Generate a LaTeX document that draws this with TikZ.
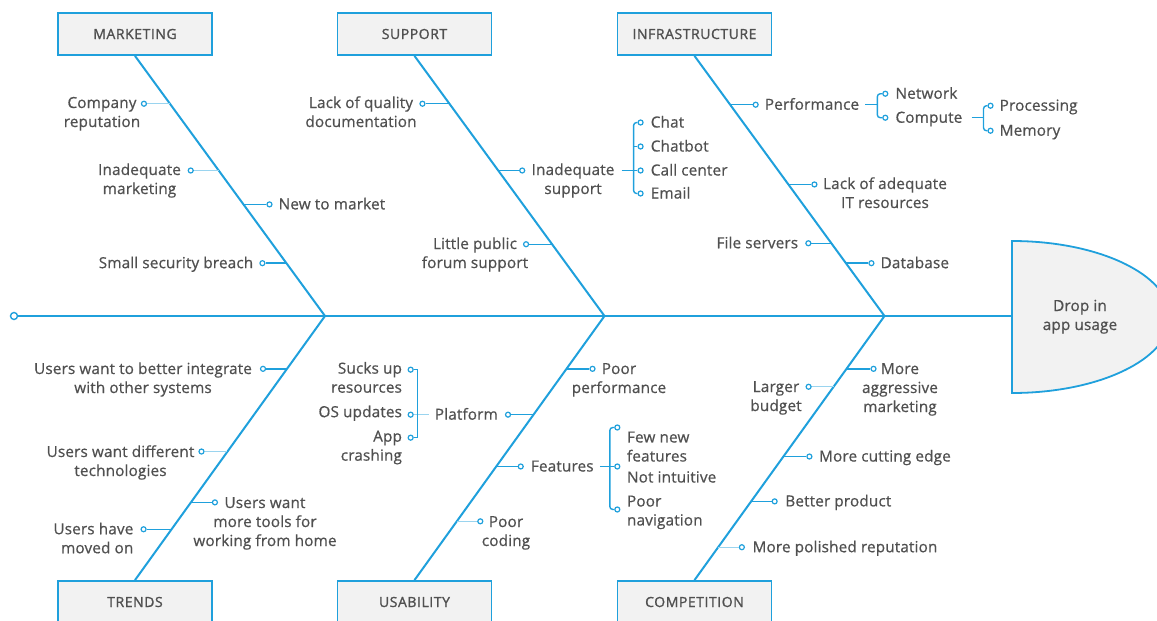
\documentclass[tikz,border=0pt]{standalone}
\usepackage{fontspec}
\setmainfont{Open Sans}
\newfontfamily\lblfont[FakeBold=0.7,LetterSpace=1]{Open Sans}
\newfontfamily\catfont[LetterSpace=4,FakeBold=1.3]{Open Sans}
\usetikzlibrary{calc}
\definecolor{fb}{RGB}{31,160,220}
\definecolor{tg}{RGB}{80,80,80}
\definecolor{bx}{RGB}{242,242,242}
\newcommand\mlt[2]{\begin{tabular}[t]{@{}#1@{}}#2\end{tabular}}
\begin{document}
\begin{tikzpicture}[x=1pt,y=-1pt,
  bone/.style={draw=fb,line width=2pt},
  twig/.style={draw=fb,line width=1.4pt},
  pale/.style={draw=fb!45,line width=1.4pt},
  dotn/.style={circle,draw=fb,fill=white,line width=1.2pt,inner sep=0pt,minimum size=5pt},
  lbl/.style={text=tg,inner sep=0pt,font=\lblfont\fontsize{15.3}{19}\selectfont},
  cat/.style={draw=fb,fill=bx,line width=1.8pt,minimum width=154pt,minimum height=42pt,inner sep=0pt,text=tg,font=\catfont\fontsize{14}{16}\selectfont},
]
\useasboundingbox (0,0) rectangle (1157,621);
\clip (0,0) rectangle (1157,621);

% head
\draw[draw=fb,fill=bx,line width=1.8pt] (1012,241) arc[start angle=-90,end angle=90,x radius=158,y radius=76] -- cycle;
\node[lbl,anchor=base] (head) at (1080,311) {\mlt{c}{Drop in\\app usage}};
\coordinate (headL) at (1012,316);

% spine
\node[circle,draw=fb,line width=1.4pt,fill=white,minimum size=7pt,inner sep=0pt] (st) at (14,316) {};
\coordinate (jm) at (325,316);
\coordinate (js) at (604.5,316);
\coordinate (ji) at (884.5,316);
\draw[bone] (st) -- (headL);

% categories
\node[cat] (mk) at (135,34) {MARKETING};
\node[cat] (sp) at (414.5,34) {SUPPORT};
\node[cat] (inf) at (694.5,34) {INFRASTRUCTURE};
\node[cat] (tr) at (135,602) {TRENDS};
\node[cat] (us) at (414.5,602) {USABILITY};
\node[cat] (cp) at (694.5,602) {COMPETITION};
\draw[bone] (mk.south) -- (jm);
\draw[bone] (sp.south) -- (js);
\draw[bone] (inf.south) -- (ji);
\draw[bone] (jm) -- (tr.north);
\draw[bone] (js) -- (us.north);
\draw[bone] (ji) -- (cp.north);

% ---------- MARKETING
\coordinate (m1) at ($(mk.south)!0.1839!(jm)$);
\coordinate (m2) at ($(mk.south)!0.4406!(jm)$);
\coordinate (m3) at ($(mk.south)!0.5709!(jm)$);
\coordinate (m4) at ($(mk.south)!0.7969!(jm)$);
\node[dotn] (dm1) at ([xshift=-26pt]m1) {};
\node[dotn] (dm2) at ([xshift=-28pt]m2) {};
\node[dotn] (dm3) at ([xshift=26pt]m3) {};
\node[dotn] (dm4) at ([xshift=-24pt]m4) {};
\draw[pale] (m1) -- (dm1);
\draw[pale] (m2) -- (dm2);
\draw[twig] (m3) -- (dm3);
\draw[twig] (m4) -- (dm4);
\node[lbl,anchor=base] (tm1) at (102,108) {\mlt{c}{Company\\reputation}};
\node[lbl,anchor=base] (tm2) at (139.5,175) {\mlt{c}{Inadequate\\marketing}};
\node[lbl,anchor=base west] (tm3) at ([xshift=9pt,yshift=-5pt]dm3.center) {New to market};
\node[lbl,anchor=base east] (tm4) at ([xshift=-9pt,yshift=-5pt]dm4.center) {Small security breach};

% ---------- SUPPORT
\coordinate (s1) at ($(sp.south)!0.1839!(js)$);
\coordinate (s2) at ($(sp.south)!0.4406!(js)$);
\coordinate (s3) at ($(sp.south)!0.7241!(js)$);
\node[dotn] (ds1) at ([xshift=-27pt]s1) {};
\node[dotn] (ds2) at ([xshift=24pt]s2) {};
\node[dotn] (ds3) at ([xshift=-26pt]s3) {};
\draw[twig] (s1) -- (ds1);
\draw[twig] (s2) -- (ds2);
\draw[twig] (s3) -- (ds3);
\node[lbl,anchor=base] (ts1) at (361,108) {\mlt{c}{Lack of quality\\documentation}};
\node[lbl,anchor=base] (ts2) at (573,175) {\mlt{c}{Inadequate\\support}};
\node[lbl,anchor=base] (ts3) at (475,249) {\mlt{c}{Little public\\forum support}};
\coordinate (sa) at ($(ts2.east |- ds2)+(7,0)$);
\coordinate (sb) at ($(sa)+(12,0)$);
\node[dotn] (c1) at ($(sb)+(7,-48)$) {};
\node[dotn] (c2) at ($(sb)+(7,-24)$) {};
\node[dotn] (c3) at ($(sb)+(7,0)$) {};
\node[dotn] (c4) at ($(sb)+(7,23)$) {};
\draw[twig] (sa) -- (c3);
\draw[twig,rounded corners=3pt] (c1) -| (sb) |- (c4);
\draw[twig] (c2 -| sb) -- (c2);
\node[lbl,anchor=base west] (tc1) at ([xshift=10pt,yshift=-5pt]c1.center) {Chat};
\node[lbl,anchor=base west] (tc2) at ([xshift=10pt,yshift=-5pt]c2.center) {Chatbot};
\node[lbl,anchor=base west] (tc3) at ([xshift=10pt,yshift=-5pt]c3.center) {Call center};
\node[lbl,anchor=base west] (tc4) at ([xshift=10pt,yshift=-5pt]c4.center) {Email};

% ---------- INFRASTRUCTURE
\coordinate (i1) at ($(inf.south)!0.1877!(ji)$);
\coordinate (i2) at ($(inf.south)!0.4943!(ji)$);
\coordinate (i3) at ($(inf.south)!0.7203!(ji)$);
\coordinate (i4) at ($(inf.south)!0.7969!(ji)$);
\node[dotn] (di1) at ([xshift=25.5pt]i1) {};
\node[dotn] (di2) at ([xshift=26pt]i2) {};
\node[dotn] (di3) at ([xshift=-23pt]i3) {};
\node[dotn] (di4) at ([xshift=25.5pt]i4) {};
\draw[twig] (i1) -- (di1);
\draw[twig] (i2) -- (di2);
\draw[twig] (i3) -- (di3);
\draw[twig] (i4) -- (di4);
\node[lbl,anchor=base west] (ti1) at ([xshift=9pt,yshift=-5pt]di1.center) {Performance};
\node[lbl,anchor=base] (ti2) at (885,189) {\mlt{c}{Lack of adequate\\IT resources}};
\node[lbl,anchor=base east] (ti3) at ([xshift=-10pt,yshift=-5pt]di3.center) {File servers};
\node[lbl,anchor=base west] (ti4) at ([xshift=9pt,yshift=-5pt]di4.center) {Database};
\coordinate (pa) at ($(ti1.east |- di1)+(6,0)$);
\coordinate (pb) at ($(pa)+(12,0)$);
\node[dotn] (dn) at ($(pb)+(8,-11)$) {};
\node[dotn] (dc) at ($(pb)+(8,13)$) {};
\draw[twig] (pa) -- (pb);
\draw[twig,rounded corners=3pt] (dn) -| (pb) |- (dc);
\node[lbl,anchor=base west] (tn) at ([xshift=10pt,yshift=-5pt]dn.center) {Network};
\node[lbl,anchor=base west] (tcm) at ([xshift=10pt,yshift=-5pt]dc.center) {Compute};
\coordinate (qa) at ($(tcm.east |- dc)+(9,0)$);
\coordinate (qb) at ($(qa)+(12,0)$);
\node[dotn] (dpr) at ($(qb)+(7,-12)$) {};
\node[dotn] (dme) at ($(qb)+(7,13)$) {};
\draw[twig] (qa) -- (qb);
\draw[twig,rounded corners=3pt] (dpr) -| (qb) |- (dme);
\node[lbl,anchor=base west] (tpr) at ([xshift=9pt,yshift=-5pt]dpr.center) {Processing};
\node[lbl,anchor=base west] (tme) at ([xshift=9pt,yshift=-5pt]dme.center) {Memory};

% ---------- TRENDS
\coordinate (t1) at ($(jm)!0.2!(tr.north)$);
\coordinate (t2) at ($(jm)!0.5132!(tr.north)$);
\coordinate (t3) at ($(jm)!0.7057!(tr.north)$);
\coordinate (t4) at ($(jm)!0.8075!(tr.north)$);
\node[dotn] (dt1) at ([xshift=-24pt]t1) {};
\node[dotn] (dt2) at ([xshift=-26pt]t2) {};
\node[dotn] (dt3) at ([xshift=24pt]t3) {};
\node[dotn] (dt4) at ([xshift=-28pt]t4) {};
\draw[twig] (t1) -- (dt1);
\draw[pale] (t2) -- (dt2);
\draw[twig] (t3) -- (dt3);
\draw[twig] (t4) -- (dt4);
\node[lbl,anchor=base] (tt1) at (143,374) {\mlt{c}{Users want to better integrate\\with other systems}};
\node[lbl,anchor=base] (tt2) at (120.5,457) {\mlt{c}{Users want different\\technologies}};
\node[lbl,anchor=base] (tt3) at (265,508) {\mlt{c}{Users want\\more tools for\\working from home}};
\node[lbl,anchor=base east] (tt4) at ([xshift=-10pt,yshift=-5pt]dt4.center) {\mlt{r}{Users have\\moved on}};

% ---------- USABILITY
\coordinate (u1) at ($(js)!0.2!(us.north)$);
\coordinate (u2) at ($(js)!0.3736!(us.north)$);
\coordinate (u3) at ($(js)!0.5698!(us.north)$);
\coordinate (u4) at ($(js)!0.7774!(us.north)$);
\node[dotn] (du1) at ([xshift=26pt]u1) {};
\node[dotn] (du2) at ([xshift=-25.5pt]u2) {};
\node[dotn] (du3) at ([xshift=24.5pt]u3) {};
\node[dotn] (du4) at ([xshift=23.5pt]u4) {};
\draw[twig] (u1) -- (du1);
\draw[twig] (u2) -- (du2);
\draw[twig] (u3) -- (du3);
\draw[pale] (u4) -- (du4);
\node[lbl,anchor=base] (tu1) at (619,374) {\mlt{c}{Poor\\performance}};
\node[lbl,anchor=base east] (tu2) at ([xshift=-10pt,yshift=-5pt]du2.center) {Platform};
\node[lbl,anchor=base west] (tu3) at ([xshift=10pt,yshift=-5pt]du3.center) {Features};
\node[lbl,anchor=base] (tu4) at (506,527) {\mlt{c}{Poor\\coding}};
% platform sub-branch
\coordinate (pl1) at ($(tu2.west |- du2)+(-6,0)$);
\coordinate (pl2) at ($(pl1)+(-11,0)$);
\node[dotn] (dsu) at ($(pl2)+(-7,-45)$) {};
\node[dotn] (dos) at ($(pl2)+(-7,0)$) {};
\node[dotn] (dap) at ($(pl2)+(-7,23)$) {};
\draw[pale] (dos) -- (pl1);
\draw[twig] (dsu) -| (pl2) |- (dap);
\node[lbl,anchor=base east] (tsu) at ([xshift=-8.5pt,yshift=-4pt]dsu.center) {\mlt{r}{Sucks up\\resources}};
\node[lbl,anchor=base east] (tos) at ([xshift=-8.5pt,yshift=-2.5pt]dos.center) {OS updates};
\node[lbl,anchor=base east] (tap) at ([xshift=-8.5pt,yshift=-4pt]dap.center) {\mlt{r}{App\\crashing}};
% features sub-branch
\coordinate (fa) at ($(tu3.east |- du3)+(6,0)$);
\coordinate (fbk) at ($(fa)+(10,0)$);
\node[dotn] (dfn) at ($(fbk)+(7.5,-39)$) {};
\node[dotn] (dni) at ($(fbk)+(7.5,0)$) {};
\node[dotn] (dpn) at ($(fbk)+(7.5,43)$) {};
\draw[twig] (fa) -- (dni);
\draw[twig,rounded corners=3pt] (dfn) -| (fbk) |- (dpn);
\node[lbl,anchor=base west] (tfn) at ([xshift=9.5pt,yshift=-15pt]dfn.center) {\mlt{l}{Few new\\features}};
\node[lbl,anchor=base west] (tni) at ([xshift=9.5pt,yshift=-16pt]dni.center) {Not intuitive};
\node[lbl,anchor=base west] (tpn) at ([xshift=9.5pt,yshift=3pt]dpn.center) {\mlt{l}{Poor\\navigation}};

% ---------- COMPETITION
\coordinate (k1) at ($(ji)!0.2!(cp.north)$);
\coordinate (k2) at ($(ji)!0.2679!(cp.north)$);
\coordinate (k3) at ($(ji)!0.5321!(cp.north)$);
\coordinate (k4) at ($(ji)!0.7019!(cp.north)$);
\coordinate (k5) at ($(ji)!0.8755!(cp.north)$);
\node[dotn] (dk1) at ([xshift=27pt]k1) {};
\node[dotn] (dk2) at ([xshift=-25pt]k2) {};
\node[dotn] (dk3) at ([xshift=26pt]k3) {};
\node[dotn] (dk4) at ([xshift=23.5pt]k4) {};
\node[dotn] (dk5) at ([xshift=23.7pt]k5) {};
\draw[twig] (k1) -- (dk1);
\draw[pale] (k2) -- (dk2);
\draw[twig] (k3) -- (dk3);
\draw[twig] (k4) -- (dk4);
\draw[pale] (k5) -- (dk5);
\node[lbl,anchor=base] (tk1) at (900,374) {\mlt{c}{More\\aggressive\\marketing}};
\node[lbl,anchor=base] (tk2) at (776,392) {\mlt{c}{Larger\\budget}};
\node[lbl,anchor=base west] (tk3) at ([xshift=9.5pt,yshift=-5pt]dk3.center) {More cutting edge};
\node[lbl,anchor=base west] (tk4) at ([xshift=10.5pt,yshift=-5pt]dk4.center) {Better product};
\node[lbl,anchor=base west] (tk5) at ([xshift=10.5pt,yshift=-5pt]dk5.center) {More polished reputation};
\end{tikzpicture}
\end{document}
